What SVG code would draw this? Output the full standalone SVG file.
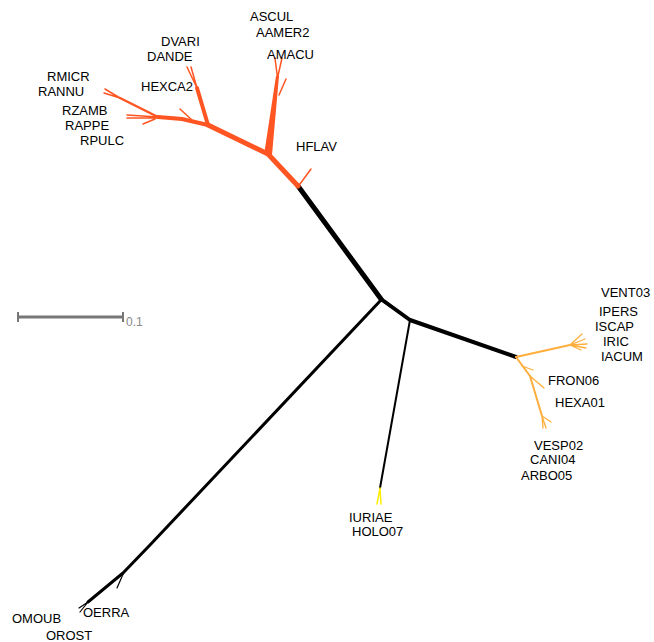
<svg xmlns="http://www.w3.org/2000/svg" width="654" height="642" viewBox="0 0 654 642">
<style>
.lbl{font-family:"Liberation Sans",Arial,sans-serif;font-size:13px;fill:#000}
.or{stroke:#FF5522;fill:none;stroke-linecap:round;stroke-linejoin:round}
.yo{stroke:#FFAE3C;fill:none;stroke-linecap:round;stroke-linejoin:round}
.ye{stroke:#FFEE00;fill:none;stroke-linecap:round}
.bk{stroke:#000;fill:none;stroke-linecap:round;stroke-linejoin:round}
.sc{stroke:#777;fill:none}
</style>
<rect width="654" height="642" fill="#fff"/>
<g id="connectors">
  <!-- black backbone -->
  <path class="bk" stroke-width="5" d="M298,186 L381,299"/>
  <path class="bk" stroke-width="4" d="M381,299 L410,320 L516,357"/>
  <path class="bk" stroke-width="2" d="M381,300 L410,320"/>
  <path class="bk" stroke-width="2" d="M410,320 L380,488"/>
  <path class="bk" stroke-width="3" d="M381,300 L150,545 L123,573 L88,602"/>
  <path class="bk" stroke-width="1.2" d="M124,572 L117,588 M88,602 L79,608 M88,602 L80,612"/>
  <!-- orange clade -->
  <path class="or" stroke-width="5" d="M298,186 L268,154 L208,125"/>
  <path class="or" stroke-width="1.5" d="M300,184 L311,169"/>
  <polygon fill="#FF5522" points="264,155 272,155 279,76 276,76"/>
  <path class="or" stroke-width="1.5" d="M277.5,78 L275,58 M277.5,78 L282,58 M279,95 L286,79"/>
  <path class="or" stroke-width="4" d="M208,125 L197,88"/>
  <path class="or" stroke-width="1.5" d="M197,88 L187,67 M197,88 L191,67"/>
  <path class="or" stroke-width="4" d="M208,125 L182,119 L158,117"/>
  <path class="or" stroke-width="1.5" d="M192,120 L180,109"/>
  <path class="or" stroke-width="2.5" d="M158,117 L120,98"/>
  <path class="or" stroke-width="1.5" d="M120,98 L105,89 M120,98 L104,93"/>
  <path class="or" stroke-width="1.5" d="M158,117 L127,115 M158,118 L127,118 M155,119 L143,124"/>
  <!-- yellow-orange clade -->
  <path class="yo" stroke-width="2" d="M516,357 L570,345"/>
  <path class="yo" stroke-width="1.3" d="M570,345 L582,334 M570,345 L585,339 M570,345 L587,344 M570,345 L586,348 M570,345 L581,350"/>
  <path class="yo" stroke-width="2" d="M516,357 L530,376 L542,416"/>
  <path class="yo" stroke-width="1.3" d="M522,366 L533,370 M530,376 L544,388 M542,416 L543,428 M542,416 L546,428 M542,416 L551,422"/>
  <!-- yellow clade -->
  <path class="ye" stroke-width="1.5" d="M380,488 L377,504 M380,488 L381,504"/>
</g>
<g id="scalebar">
  <path class="sc" stroke-width="3" d="M18,317 L123,317"/>
  <path class="sc" stroke-width="2" d="M18,312 L18,322 M123,312 L123,322"/>
  <text x="126" y="326" font-family="Liberation Sans,Arial,sans-serif" font-size="12" fill="#888">0.1</text>
</g>
<g id="ASCUL"><text class="lbl" x="250" y="21">ASCUL</text></g>
<g id="AAMER2"><text class="lbl" x="256" y="37">AAMER2</text></g>
<g id="AMACU"><text class="lbl" x="267" y="59">AMACU</text></g>
<g id="DVARI"><text class="lbl" x="161" y="46">DVARI</text></g>
<g id="DANDE"><text class="lbl" x="147" y="61">DANDE</text></g>
<g id="HEXCA2"><text class="lbl" x="141" y="91">HEXCA2</text></g>
<g id="RMICR"><text class="lbl" x="47" y="81">RMICR</text></g>
<g id="RANNU"><text class="lbl" x="38" y="96">RANNU</text></g>
<g id="RZAMB"><text class="lbl" x="62" y="115">RZAMB</text></g>
<g id="RAPPE"><text class="lbl" x="65" y="130">RAPPE</text></g>
<g id="RPULC"><text class="lbl" x="80" y="145">RPULC</text></g>
<g id="HFLAV"><text class="lbl" x="296" y="151">HFLAV</text></g>
<g id="VENT03"><text class="lbl" x="601" y="297">VENT03</text></g>
<g id="IPERS"><text class="lbl" x="599" y="316">IPERS</text></g>
<g id="ISCAP"><text class="lbl" x="595" y="331">ISCAP</text></g>
<g id="IRIC"><text class="lbl" x="603" y="346">IRIC</text></g>
<g id="IACUM"><text class="lbl" x="601" y="361">IACUM</text></g>
<g id="FRON06"><text class="lbl" x="548" y="385">FRON06</text></g>
<g id="HEXA01"><text class="lbl" x="555" y="407">HEXA01</text></g>
<g id="VESP02"><text class="lbl" x="534" y="450">VESP02</text></g>
<g id="CANI04"><text class="lbl" x="530" y="464">CANI04</text></g>
<g id="ARBO05"><text class="lbl" x="521" y="480">ARBO05</text></g>
<g id="IURIAE"><text class="lbl" x="349" y="522">IURIAE</text></g>
<g id="HOLO07"><text class="lbl" x="352" y="536">HOLO07</text></g>
<g id="OERRA"><text class="lbl" x="83" y="617">OERRA</text></g>
<g id="OMOUB"><text class="lbl" x="12" y="623">OMOUB</text></g>
<g id="OROST"><text class="lbl" x="46" y="640">OROST</text></g>
</svg>
